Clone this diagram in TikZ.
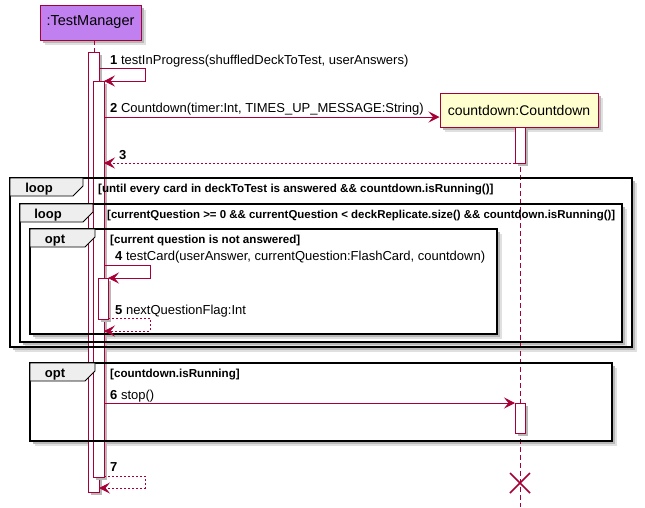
\documentclass[tikz,border=0pt]{standalone}
\usepackage{fontspec}
\setmainfont{Liberation Sans}
\usetikzlibrary{arrows.meta}
\definecolor{pred}{HTML}{A80036}
\definecolor{ppurple}{HTML}{C080F0}
\definecolor{pyellow}{HTML}{FEFECE}
\definecolor{ptab}{HTML}{EEEEEE}
\begin{document}
\begin{tikzpicture}[x=1pt,y=-1pt,
  msg/.style={draw=pred, line width=0.8pt, -{Stealth[length=11pt,width=11pt,inset=4.5pt]}},
  ret/.style={msg, dash pattern=on 2pt off 2pt},
  lbl/.style={anchor=base west, inner sep=0pt, font=\fontsize{13}{15}\selectfont},
  cond/.style={anchor=base west, inner sep=0pt, font=\fontsize{11.6}{13}\selectfont\bfseries},
  tabtxt/.style={anchor=base, inner sep=0pt, font=\fontsize{13}{15}\selectfont\bfseries},
  actbar/.style={draw=pred, fill=white, line width=0.8pt},
  shd/.style={fill=black!28, draw=none},
  shdl/.style={fill=black!12, draw=none},
  framebox/.style={draw=black, line width=1.5pt},
  tabbox/.style={draw=black, fill=ptab, line width=0.8pt},
  lifeline/.style={draw=pred, line width=0.8pt, dash pattern=on 5pt off 3pt},
  participant/.style={draw=pred, line width=1pt, inner sep=0pt, font=\fontsize{14.5}{16}\selectfont}
]
\useasboundingbox (0,0) rectangle (645,507);

% ---------- participants ----------
\fill[shdl] (45,10) rectangle (146,45);
\fill[shd] (43,8) rectangle (144,43);
\node[participant, fill=ppurple, minimum width=101pt, minimum height=35pt] (tm) at (90.5,22.5) {:TestManager};
\fill[shdl] (445,98) rectangle (603,132);
\fill[shd] (443,96) rectangle (601,130);
\node[participant, fill=pyellow, minimum width=158pt, minimum height=34pt, font=\fontsize{14}{16}\selectfont] (cd) at (519,110) {countdown:Countdown};

% lifelines
\coordinate (tmtop) at (94,40);
\coordinate (tmbar) at (94,52);
\draw[lifeline] (tmtop) -- (tmbar);
\coordinate (cdtop) at (520,127);
\coordinate (cdbot) at (520,507);

% ---------- frames (background) ----------
\fill[shdl] (15,183) rectangle (637,352);
\fill[shd] (13,181) rectangle (635,350);
\fill[white] (10,178) rectangle (632,347);
\fill[shdl] (25,209) rectangle (627,347);
\fill[shd] (23,207) rectangle (625,345);
\fill[white] (20,204) rectangle (622,342);
\fill[shdl] (35,234) rectangle (502,339);
\fill[shd] (33,232) rectangle (500,337);
\fill[white] (30,229) rectangle (497,334);
\fill[shdl] (35,368) rectangle (617,446);
\fill[shd] (33,366) rectangle (615,444);
\fill[white] (30,363) rectangle (612,441);

\draw[lifeline] (cdtop) -- (cdbot);

% ---------- activation bars ----------
\fill[shd] (91,55) rectangle (102,495);
\draw[actbar] (88,52) rectangle (99,492);
\fill[shd] (96,84) rectangle (107,480);
\draw[actbar] (93,81) rectangle (104,477);
\fill[shd] (101,281) rectangle (111,322);
\draw[actbar] (98,278) rectangle (108,319);
\fill[shd] (518,130) rectangle (528,166);
\draw[actbar] (515,127) rectangle (525,163);
\fill[shd] (518,406) rectangle (528,436);
\draw[actbar] (515,403) rectangle (525,433);

% ---------- frame outlines and tabs ----------
\draw[framebox] (10,178) rectangle (632,347);
\draw[tabbox] (10,178) -- (83,178) -- (83,186) -- (73,196) -- (10,196) -- cycle;
\node[tabtxt] (t1) at (39,192) {loop};
\node[cond] (c1) at (98,192) {[until every card in deckToTest is answered \&\& countdown.isRunning()]};

\draw[framebox] (20,204) rectangle (622,342);
\draw[tabbox] (20,204) -- (93,204) -- (93,212) -- (83,222) -- (20,222) -- cycle;
\node[tabtxt] (t2) at (48,218) {loop};
\node[cond, font=\fontsize{11.45}{13}\selectfont\bfseries] (c2) at (107,218) {[currentQuestion >= 0 \&\& currentQuestion < deckReplicate.size() \&\& countdown.isRunning()]};

\draw[framebox] (30,229) rectangle (497,334);
\draw[tabbox] (30,229) -- (95,229) -- (95,237) -- (85,247) -- (30,247) -- cycle;
\node[tabtxt] (t3) at (55,243) {opt};
\node[cond] (c3) at (110,243) {[current question is not answered]};

\draw[framebox] (30,363) rectangle (612,441);
\draw[tabbox] (30,363) -- (95,363) -- (95,371) -- (85,381) -- (30,381) -- cycle;
\node[tabtxt] (t4) at (55,377) {opt};
\node[cond] (c4) at (110,377) {[countdown.isRunning]};

% ---------- messages ----------
% 1
\coordinate (m1a) at (99,68);
\coordinate (m1b) at (145,68);
\coordinate (m1c) at (145,81);
\coordinate (m1d) at (104,81);
\draw[msg] (m1a) -- (m1b) -- (m1c) -- (m1d);
\node[lbl] (l1) at (110,64) {\textbf{1} testInProgress(shuffledDeckToTest, userAnswers)};
% 2
\coordinate (m2a) at (104,117);
\draw[msg] (m2a) -- (cd.west |- m2a);
\node[lbl] (l2) at (110,112) {\textbf{2} Countdown(timer:Int, TIMES\_UP\_MESSAGE:String)};
% 3
\coordinate (m3a) at (515,163);
\coordinate (m3b) at (104,163);
\draw[ret] (m3a) -- (m3b);
\node[lbl] (l3) at (119,159) {\textbf{3}};
% 4
\coordinate (m4a) at (104,265);
\coordinate (m4b) at (150,265);
\coordinate (m4c) at (150,278);
\coordinate (m4d) at (108,278);
\draw[msg] (m4a) -- (m4b) -- (m4c) -- (m4d);
\node[lbl] (l4) at (115,260) {\textbf{4} testCard(userAnswer, currentQuestion:FlashCard, countdown)};
% 5
\coordinate (m5a) at (108,318);
\coordinate (m5b) at (150,318);
\coordinate (m5c) at (150,331);
\coordinate (m5d) at (104,331);
\draw[ret] (m5a) -- (m5b) -- (m5c) -- (m5d);
\node[lbl] (l5) at (115,314) {\textbf{5} nextQuestionFlag:Int};
% 6
\coordinate (m6a) at (104,403);
\coordinate (m6b) at (515,403);
\draw[msg] (m6a) -- (m6b);
\node[lbl] (l6) at (110,399) {\textbf{6} stop()};
% 7
\coordinate (m7a) at (104,476);
\coordinate (m7b) at (145,476);
\coordinate (m7c) at (145,488);
\coordinate (m7d) at (99,488);
\draw[ret] (m7a) -- (m7b) -- (m7c) -- (m7d);
\node[lbl] (l7) at (110,471) {\textbf{7}};

% destroy
\coordinate (dx) at (520,483);
\draw[pred, line width=1.6pt] ([shift={(-10,-10)}]dx) -- ([shift={(10,10)}]dx)
  ([shift={(-10,10)}]dx) -- ([shift={(10,-10)}]dx);
\end{tikzpicture}
\end{document}
